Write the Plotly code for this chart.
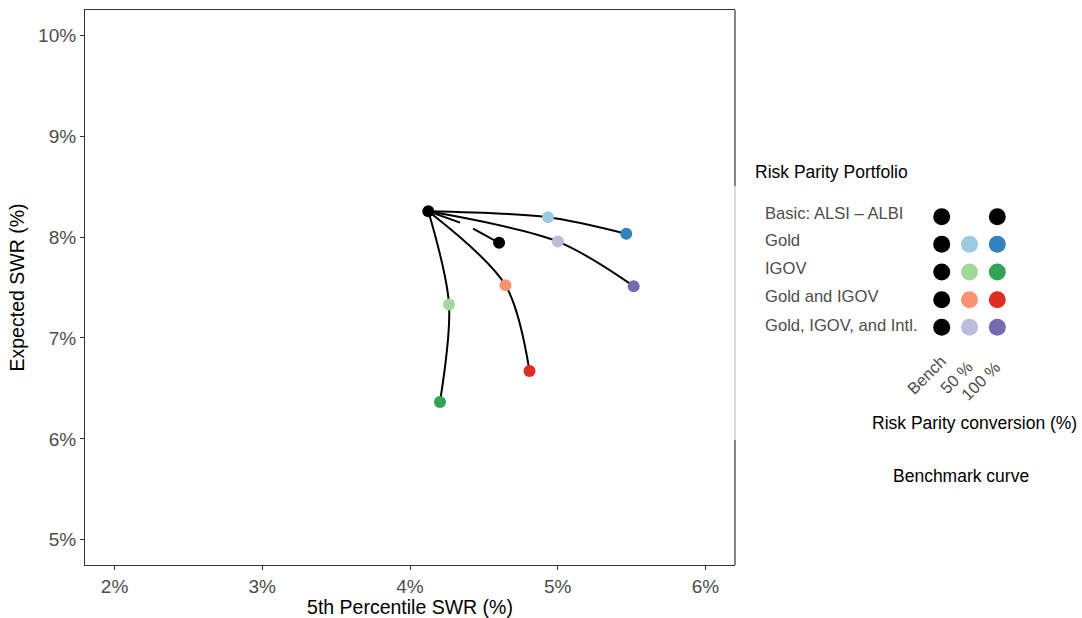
import plotly.graph_objects as go

# ---------------- data ----------------
portfolios = ["Basic: ALSI \u2013 ALBI", "Gold", "IGOV", "Gold and IGOV", "Gold, IGOV, and Intl."]
conversion_labels = ["Bench", "50 %", "100 %"]

bench_x = 4.124
bench_y = 8.255

x50 = [None, 4.934, 4.264, 4.646, 5.001]
y50 = [None, 8.196, 7.332, 7.523, 7.955]
x100 = [4.603, 5.464, 4.203, 4.809, 5.514]
y100 = [7.943, 8.032, 6.366, 6.673, 7.513]

colors50 = [None, "#9ecae1", "#a1d99b", "#fc9272", "#bcbddc"]
colors100 = ["#000000", "#3182bd", "#31a354", "#de2d26", "#756bb1"]
bench_color = "#000000"

# the basic curve shows a small gap in the picture
basic_curve_x = [4.124, 4.339, None, 4.427, 4.603]
basic_curve_y = [8.255, 8.143, None, 8.084, 7.943]

x_ticks = [2, 3, 4, 5, 6]
y_ticks = [5, 6, 7, 8, 9, 10]

# ---------------- layout helpers ----------------
W, H = 1082, 618
ML, MR, MT, MB = 85, 5, 10, 53
AW = W - ML - MR
AH = H - MT - MB
PANEL_R = 735


def px_x(px):
    return (px - ML) / AW


def px_y(py):
    return (H - MB - py) / AH


FONT = "Liberation Sans, Arial, sans-serif"
GREY_TXT = "#4d4d4d"

fig = go.Figure()

# curves (drawn below the points)
fig.add_trace(go.Scatter(
    x=basic_curve_x, y=basic_curve_y, mode="lines",
    line=dict(color="black", width=2), connectgaps=False,
    hoverinfo="skip", showlegend=False))
for i in range(1, len(portfolios)):
    fig.add_trace(go.Scatter(
        x=[bench_x, x50[i], x100[i]], y=[bench_y, y50[i], y100[i]],
        mode="lines", line=dict(color="black", width=2, shape="spline", smoothing=0.9),
        hoverinfo="skip", showlegend=False))

# points
pts_x, pts_y, pts_c, pts_t = [bench_x], [bench_y], [bench_color], ["Bench"]
for i, name in enumerate(portfolios):
    if x50[i] is not None:
        pts_x.append(x50[i]); pts_y.append(y50[i]); pts_c.append(colors50[i]); pts_t.append(name + " 50 %")
    pts_x.append(x100[i]); pts_y.append(y100[i]); pts_c.append(colors100[i]); pts_t.append(name + " 100 %")
fig.add_trace(go.Scatter(
    x=pts_x, y=pts_y, mode="markers", text=pts_t,
    marker=dict(color=pts_c, size=12, line=dict(width=0)),
    showlegend=False))

# legend grid of dots (on its own small axes)
lx, ly, lc = [], [], []
for r in range(len(portfolios)):
    row_cols = [bench_color, colors50[r], colors100[r]]
    for c, col in enumerate(row_cols):
        if col is None:
            continue
        lx.append(c); ly.append(r); lc.append(col)
fig.add_trace(go.Scatter(
    x=lx, y=ly, mode="markers", xaxis="x2", yaxis="y2",
    marker=dict(color=lc, size=17, line=dict(width=0)),
    hoverinfo="skip", showlegend=False))

annotations = []
annotations.append(dict(text="Risk Parity Portfolio", x=px_x(753), y=px_y(171.7),
                        xref="paper", yref="paper", xanchor="left", yanchor="middle",
                        showarrow=False, font=dict(size=17.5, color="black", family=FONT)))
label_py = [213.3, 240.5, 268.5, 296.7, 325]
for name, py in zip(portfolios, label_py):
    annotations.append(dict(text=name, x=px_x(763), y=px_y(py), xref="paper", yref="paper",
                            xanchor="left", yanchor="middle", showarrow=False,
                            font=dict(size=16.6, color=GREY_TXT, family=FONT)))
col_anchor = [(952, 349), (979, 354), (1006, 355)]
for lab, (ax_, ay_) in zip(conversion_labels, col_anchor):
    annotations.append(dict(text=lab, x=px_x(ax_), y=px_y(ay_), xref="paper", yref="paper",
                            xanchor="right", yanchor="top", textangle=-45, showarrow=False,
                            font=dict(size=16.5, color=GREY_TXT, family=FONT)))
annotations.append(dict(text="Risk Parity conversion (%)", x=px_x(974.5), y=px_y(423),
                        xref="paper", yref="paper", xanchor="center", yanchor="middle",
                        showarrow=False, font=dict(size=17.5, color="black", family=FONT)))
annotations.append(dict(text="Benchmark curve", x=px_x(960.5), y=px_y(476),
                        xref="paper", yref="paper", xanchor="center", yanchor="middle",
                        showarrow=False, font=dict(size=17.5, color="black", family=FONT)))

BORDER = "#333333"
shapes = [
    dict(type="line", xref="x domain", yref="y domain", x0=1, x1=1, y0=px_y(186), y1=1,
         line=dict(color=BORDER, width=1.2)),
    dict(type="line", xref="x domain", yref="y domain", x0=1, x1=1, y0=px_y(440), y1=px_y(186),
         line=dict(color="#c4c4c4", width=1.2)),
    dict(type="line", xref="x domain", yref="y domain", x0=1, x1=1, y0=0, y1=px_y(440),
         line=dict(color=BORDER, width=1.2)),
]

fig.update_layout(
    width=W, height=H,
    margin=dict(l=ML, r=MR, t=MT, b=MB),
    paper_bgcolor="white", plot_bgcolor="white",
    font=dict(family=FONT),
    showlegend=False,
    xaxis=dict(domain=[0, (PANEL_R - ML) / AW], range=[1.8, 6.2],
               tickvals=x_ticks, ticktext=[f"{v}%" for v in x_ticks],
               showgrid=False, zeroline=False,
               showline=True, mirror=True, linecolor=BORDER, linewidth=1.2,
               ticks="outside", ticklen=4, tickwidth=1.3, tickcolor=BORDER,
               tickfont=dict(size=19, color=GREY_TXT, family=FONT),
               title=dict(text="5th Percentile SWR (%)", standoff=4,
                          font=dict(size=19.5, color="black", family=FONT)),
               automargin=False),
    yaxis=dict(domain=[0, 1], range=[4.75, 10.25],
               tickvals=y_ticks, ticktext=[f"{v}%" for v in y_ticks],
               showgrid=False, zeroline=False,
               showline=True, mirror=False, linecolor=BORDER, linewidth=1.2,
               ticks="outside", ticklen=4, tickwidth=1.3, tickcolor=BORDER,
               tickfont=dict(size=19, color=GREY_TXT, family=FONT),
               title=dict(text="Expected SWR (%)", standoff=8,
                          font=dict(size=19.5, color="black", family=FONT)),
               automargin=False),
    xaxis2=dict(domain=[px_x(927.8), px_x(1011.2)], range=[-0.5, 2.5], anchor="y2",
                visible=False, fixedrange=True),
    yaxis2=dict(domain=[px_y(341.1), px_y(202.9)], range=[4.5, -0.5], anchor="x2",
                visible=False, fixedrange=True),
    annotations=annotations,
    shapes=shapes,
)

fig.write_html("out.html", config={"displayModeBar": False},
               post_script="document.body.style.margin='0px';")
